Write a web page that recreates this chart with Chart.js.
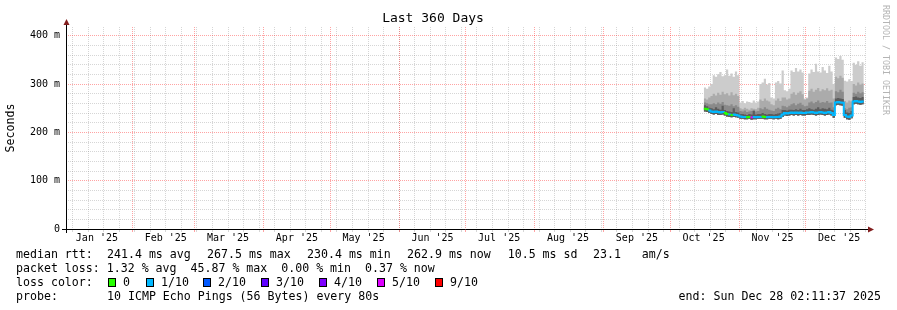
<!DOCTYPE html>
<html>
<head>
<meta charset="utf-8">
<title>Last 360 Days</title>
<script src="https://cdn.jsdelivr.net/npm/chart.js@4.4.1/dist/chart.umd.min.js"></script>
<style>
  html, body { margin: 0; padding: 0; background: #fff; }
  #wrap { position: relative; width: 897px; height: 310px; font-family: 'DejaVu Sans Mono', monospace; font-size: 11.6px; color: #000; }
  #wrap canvas { position: absolute; left: 0; top: 0; }
  .row { position: absolute; height: 14px; line-height: 14px; white-space: pre; }
  .box { position: absolute; width: 6px; height: 7px; border: 1px solid #000; }
  #mark { position: absolute; left: 881px; top: 5px; writing-mode: vertical-rl; font-size: 8.3px; line-height: 10px; color: #b4b4b4; white-space: pre; }
</style>
</head>
<body>
<div id="wrap">
  <canvas id="chart" width="897" height="310"></canvas>
  <div id="legend"></div>
  <div id="mark">RRDTOOL / TOBI OETIKER</div>
</div>
<script>
// time window: 360 days ending Sun Dec 28 02:11:37 2025
const startDoy = 1 + 7897 / 86400;   // Jan 2 2025 02:11:37 as day-of-year
const spanDays = 360;
const monthStarts = [0, 31, 59, 90, 120, 151, 181, 212, 243, 273, 304, 334];
const monthLabels = ["Jan '25", "Feb '25", "Mar '25", "Apr '25", "May '25", "Jun '25",
                     "Jul '25", "Aug '25", "Sep '25", "Oct '25", "Nov '25", "Dec '25"];
const firstWeekLine = 4;   // Sunday Jan 5
const yMajor = [0, 100, 200, 300, 400];
const yMinorStep = 20;
const yTop = 418;

// samples: one per day, starting 287 days after window start (values in ms)
const firstSample = 287;
const median = [249, 248, 245, 243,
  242, 243, 242, 241, 242, 240, 238, 237, 236, 237, 236, 235,
  233, 232, 232, 231, 232, 231, 232, 231, 232,
  232, 233, 232, 231, 232,
  232, 231,
  232, 232, 233, 237,
  240, 239, 240,
  241, 240, 241, 240, 241, 240,
  240, 241,
  241, 242, 241, 240, 241, 242, 241, 240, 241, 242, 240,
  236,
  262, 263, 262, 261,
  236, 233, 232, 235,
  264, 265, 264, 263, 264, 264];
const pingLow = [243, 242, 240, 238,
  237, 238, 236, 236, 237, 235, 233, 232, 231, 232, 231, 230,
  228, 228, 227, 227, 228, 226, 227, 227, 228,
  228, 228, 227, 227, 228,
  228, 227,
  228, 227, 228, 232,
  235, 234, 235,
  236, 235, 236, 235, 236, 235,
  235, 236,
  236, 237, 236, 235, 236, 237, 236, 235, 236, 237, 235,
  230,
  256, 257, 256, 255,
  230, 227, 226, 229,
  258, 259, 258, 257, 258, 258];
const smoke1 = [256, 254, 251, 250,
  248, 252, 249, 247, 255, 246, 244, 243, 242, 250, 242, 241,
  238, 238, 237, 236, 238, 237, 244, 237, 238,
  238, 240, 238, 237, 238,
  238, 237,
  238, 239, 240, 246,
  246, 245, 247,
  247, 246, 248, 246, 249, 246,
  246, 248,
  250, 248, 247, 249, 252, 248, 250, 249, 248, 251, 247,
  245,
  270, 271, 270, 269,
  246, 241, 240, 244,
  273, 274, 272, 271, 273, 272];
const smoke2 = [262, 260, 258, 258,
  260, 258, 262, 259, 263, 257, 256, 255, 258, 254, 256, 253,
  244, 243, 245, 242, 243, 244, 246, 243, 244,
  250, 248, 252, 249, 247,
  245, 244,
  249, 251, 248, 255,
  254, 252, 255,
  258, 260, 256, 259, 261, 257,
  254, 255,
  262, 264, 260, 263, 266, 261, 263, 262, 265, 261, 262,
  252,
  285, 283, 288, 284,
  250, 248, 251, 252,
  282, 280, 284, 281, 283, 280];
const smoke3 = [270, 268, 272, 275,
  280, 276, 282, 278, 284, 279, 281, 276, 283, 277, 280, 275,
  250, 248, 251, 249, 247, 250, 249, 248, 251,
  268, 265, 270, 266, 264,
  258, 256,
  266, 270, 265, 272,
  272, 268, 270,
  280, 283, 278, 282, 285, 279,
  268, 270,
  286, 290, 284, 288, 292, 285, 289, 287, 291, 286, 288,
  270,
  315, 312, 317, 313,
  265, 262, 266, 264,
  300, 297, 303, 299, 301, 298];
const pingHigh = [293, 290, 295, 300,
  318, 315, 320, 325, 316, 318, 330, 317, 322, 315, 326, 318,
  262, 265, 260, 264, 263, 261, 266, 262, 264,
  300, 303, 311, 299, 302,
  272, 270,
  303, 306, 301, 328,
  287, 285, 290,
  328, 325, 333, 326, 330, 324,
  270, 272,
  322, 330, 325, 342, 326, 324, 335, 328, 323, 338, 326,
  300,
  355, 352, 358, 350,
  307, 305, 310, 306,
  344, 340, 347, 338, 345, 341];
// lost pings out of 10 per sample
const loss = [1, 0, 0, 1,
  1, 1, 1, 1, 1, 1, 0, 0, 1, 0, 1, 1,
  1, 1, 1, 1, 0, 0, 5, 1, 1,
  1, 1, 0, 0, 1,
  1, 1,
  1, 1, 1, 1,
  1, 1, 1,
  1, 1, 1, 1, 1, 1,
  1, 1,
  1, 1, 1, 1, 1, 1, 1, 1, 1, 1, 1,
  1,
  1, 1, 1, 1,
  1, 1, 1, 1,
  1, 1, 1, 1, 1, 1];

const lossLevels = [0, 1, 2, 3, 4, 5, 9];
const lossLabels = ['0', '1/10', '2/10', '3/10', '4/10', '5/10', '9/10'];
const lossColors = ['#26ff00', '#00b8ff', '#0059ff', '#5e00ff', '#7e00ff', '#dd00ff', '#ff0000'];

const statsRow = [['median rtt:', 16], ['241.4 ms avg', 107], ['267.5 ms max', 207], ['230.4 ms min', 307],
                  ['262.9 ms now', 407], ['10.5 ms sd', 507.7], ['23.1   am/s', 593]];
const lossRow = 'packet loss: 1.32 % avg  45.87 % max  0.00 % min  0.37 % now';
const probeText = '10 ICMP Echo Pings (56 Bytes) every 80s';
const endText = 'end: Sun Dec 28 02:11:37 2025';

const FONT = "'DejaVu Sans Mono', monospace";
const minorColor = 'rgba(128,128,128,0.32)';
const majorColor = 'rgba(255,0,0,0.36)';

function colorForLoss(n) {
  const idx = lossLevels.indexOf(n);
  return idx >= 0 ? lossColors[idx] : lossColors[lossColors.length - 1];
}

function series(arr) {
  return arr.map((v, i) => ({ x: firstSample + i, y: v }));
}

const weekTicks = [];
for (let d = firstWeekLine - startDoy; d <= spanDays; d += 7) weekTicks.push(d);
const monthTicks = monthStarts.map(m => m - startDoy).filter(d => d >= 0);
const labelTicks = monthStarts.map(m => m + 15 - startDoy);
const yMinorTicks = [];
for (let v = yMinorStep; v <= yTop; v += yMinorStep) {
  if (!yMajor.includes(v)) yMinorTicks.push(v);
}

function band(data, color) {
  return {
    data: series(data),
    borderColor: 'rgba(0,0,0,0)',
    borderWidth: 0,
    backgroundColor: color,
    fill: 5,
    stepped: 'before',
    pointRadius: 0
  };
}

const axisArrows = {
  id: 'axisArrows',
  afterDraw(chart) {
    const { ctx, chartArea: a } = chart;
    ctx.save();
    ctx.strokeStyle = '#000';
    ctx.lineWidth = 1;
    ctx.beginPath();
    ctx.moveTo(a.left - 4, a.bottom + 0.5);
    ctx.lineTo(a.right + 3, a.bottom + 0.5);
    ctx.moveTo(a.left + 0.5, a.bottom + 4);
    ctx.lineTo(a.left + 0.5, a.top - 3);
    ctx.stroke();
    ctx.fillStyle = '#821e1e';
    ctx.beginPath();
    ctx.moveTo(a.right + 2, a.bottom - 2.5);
    ctx.lineTo(a.right + 8, a.bottom + 0.5);
    ctx.lineTo(a.right + 2, a.bottom + 3.5);
    ctx.closePath();
    ctx.fill();
    ctx.beginPath();
    ctx.moveTo(a.left - 2.5, a.top - 2);
    ctx.lineTo(a.left + 0.5, a.top - 8);
    ctx.lineTo(a.left + 3.5, a.top - 2);
    ctx.closePath();
    ctx.fill();
    ctx.restore();
  }
};

function fixedTicks(list) {
  return axis => { axis.ticks = list.map(v => ({ value: v })); };
}

new Chart(document.getElementById('chart'), {
  type: 'line',
  data: {
    datasets: [
      {
        data: series(median),
        borderWidth: 2,
        borderColor: lossColors[1],
        segment: { borderColor: c => colorForLoss(loss[c.p1DataIndex]) },
        stepped: 'before',
        pointRadius: 0,
        fill: false
      },
      band(smoke1, '#5c5c5c'),
      band(smoke2, '#8a8a8a'),
      band(smoke3, '#ababab'),
      band(pingHigh, '#cccccc'),
      {
        data: series(pingLow),
        borderColor: 'rgba(0,0,0,0)',
        borderWidth: 0,
        pointRadius: 0,
        fill: false,
        stepped: 'before'
      }
    ]
  },
  options: {
    responsive: false,
    animation: false,
    layout: { padding: { left: 0, right: 31, top: 0, bottom: 0 } },
    plugins: {
      legend: { display: false },
      tooltip: { enabled: false },
      title: {
        display: true,
        text: 'Last 360 Days',
        color: '#000',
        font: { family: FONT, size: 13, weight: 'normal' },
        padding: { top: 11, bottom: 0.4 }
      }
    },
    scales: {
      x: {
        type: 'linear', position: 'bottom', min: 0, max: spanDays, z: 1, weight: 0,
        afterBuildTicks: fixedTicks(weekTicks),
        afterFit: s => { s.height = 0; },
        grid: { color: minorColor, tickLength: 3 },
        border: { display: false, dash: [1, 1] },
        ticks: { display: false }
      },
      xMonth: {
        type: 'linear', position: 'bottom', min: 0, max: spanDays, z: 1, weight: 0,
        afterBuildTicks: fixedTicks(monthTicks),
        afterFit: s => { s.height = 0; },
        grid: { color: majorColor, tickLength: 3 },
        border: { display: false, dash: [1, 1] },
        ticks: { display: false }
      },
      xLabel: {
        type: 'linear', position: 'bottom', min: 0, max: spanDays, weight: 1,
        afterBuildTicks: fixedTicks(labelTicks),
        afterFit: s => { s.height = 81; },
        grid: { display: false, drawTicks: false, tickLength: 0 },
        border: { display: false },
        ticks: {
          autoSkip: false, maxRotation: 0, padding: 3, color: '#000',
          font: { family: FONT, size: 10 },
          callback: (v, i) => monthLabels[i]
        }
      },
      y: {
        type: 'linear', position: 'left', min: 0, max: yTop, z: 1, weight: 0,
        afterBuildTicks: fixedTicks(yMinorTicks),
        afterFit: s => { s.width = 0; },
        grid: { color: minorColor, drawTicks: false },
        border: { display: false, dash: [1, 1] },
        ticks: { display: false }
      },
      yMajor: {
        type: 'linear', position: 'left', min: 0, max: yTop, z: 1, weight: 1,
        afterBuildTicks: fixedTicks(yMajor),
        afterFit: s => { s.width = 66; },
        grid: { color: c => c.tick && c.tick.value === 0 ? 'rgba(0,0,0,0)' : majorColor, drawTicks: false },
        border: { display: false, dash: [1, 1] },
        ticks: {
          padding: 6, color: '#000',
          font: { family: FONT, size: 10 },
          callback: v => v === 0 ? '0' : v + ' m'
        },
        title: {
          display: true, text: 'Seconds', color: '#000',
          font: { family: FONT, size: 11.6 },
          padding: { top: 4, bottom: 0 }
        }
      }
    }
  },
  plugins: [axisArrows]
});

// legend rows below the graph
const legend = document.getElementById('legend');
function addText(text, left, top) {
  const el = document.createElement('div');
  el.className = 'row';
  el.textContent = text;
  el.style.left = left + 'px';
  el.style.top = top + 'px';
  legend.appendChild(el);
  return el;
}
statsRow.forEach(([t, x]) => addText(t, x, 247));
addText(lossRow, 16, 261);
addText('loss color:', 16, 275);
const boxX = [108, 146, 203, 261, 319, 377, 435];
lossLabels.forEach((lbl, i) => {
  const b = document.createElement('div');
  b.className = 'box';
  b.style.left = boxX[i] + 'px';
  b.style.top = '278px';
  b.style.background = lossColors[i];
  legend.appendChild(b);
  addText(lbl, boxX[i] + 15, 275);
});
addText('probe:', 16, 289);
addText(probeText, 107, 289);
const endEl = addText(endText, 0, 289);
endEl.style.left = 'auto';
endEl.style.right = '16px';
</script>
</body>
</html>
